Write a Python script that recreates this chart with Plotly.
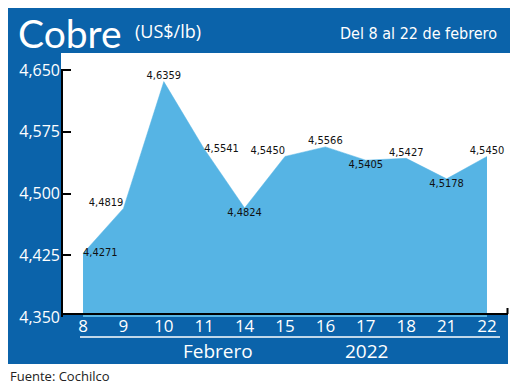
import plotly.graph_objects as go

# ---- data ----
days = ["8", "9", "10", "11", "14", "15", "16", "17", "18", "21", "22"]
prices = [4.4271, 4.4819, 4.6359, 4.5541, 4.4824, 4.5450, 4.5566, 4.5405, 4.5427, 4.5178, 4.5450]
label_pos = ["middle right", "top left", "top center", "middle right", "bottom center",
             "top left", "top center", "bottom center", "top center", "bottom center", "top center"]
y_ticks = [4.350, 4.425, 4.500, 4.575, 4.650]
month_label = "Febrero"
year_label = "2022"
title_main = "Cobre"
title_unit = "(US$/lb)"
title_right = "Del 8 al 22 de febrero"
source = "Fuente: Cochilco"

# page body has an 8px margin: lay out in window pixels, shift into figure pixels
OFF = 8
W, H = 520 - OFF, 389 - OFF
L, R, T, B = 61 - OFF, 508 - OFF, 53 - OFF, 317 - OFF  # plot area (figure px)
BLUE = "#0B63AA"
FILL = "#56B4E4"
NARROW = "DejaVu Sans Condensed, Roboto Condensed, Arial Narrow, Roboto"


def px(x):  # window px -> paper
    return (x - OFF - L) / (R - L)


def py(y):
    return (B - (y - OFF)) / (B - T)


fig = go.Figure()
fig.add_trace(go.Scatter(
    x=days, y=prices, mode="lines+text", fill="tozeroy",
    fillcolor=FILL, line=dict(color=FILL, width=0.5),
    text=[f"{v:.4f}".replace(".", ",") for v in prices],
    textposition=label_pos,
    textfont=dict(family=NARROW, size=11, color="#111111", weight=500),
    hoverinfo="skip", cliponaxis=False,
))

shapes = [
    # blue frame: top band, left band, bottom band
    dict(type="rect", xref="paper", yref="paper", x0=px(5), x1=px(510), y0=py(53), y1=py(5),
         fillcolor=BLUE, line_width=0, layer="below"),
    dict(type="rect", xref="paper", yref="paper", x0=px(5), x1=px(61), y0=py(364), y1=py(53),
         fillcolor=BLUE, line_width=0, layer="below"),
    dict(type="rect", xref="paper", yref="paper", x0=px(5), x1=px(508), y0=py(364), y1=py(315),
         fillcolor=BLUE, line_width=0, layer="below"),
    # white rule under day labels
    dict(type="line", xref="paper", yref="paper", x0=px(80), x1=px(500), y0=py(337), y1=py(337),
         line=dict(color="white", width=1.5)),
    # y axis line
    dict(type="line", xref="paper", yref="y", x0=px(62), x1=px(62), y0=y_ticks[0], y1=y_ticks[-1],
         line=dict(color="black", width=2)),
    # x axis line with end tick
    dict(type="line", xref="paper", yref="paper", x0=px(62), x1=px(508), y0=py(314), y1=py(314),
         line=dict(color="black", width=2)),
    dict(type="line", xref="paper", yref="paper", x0=px(507.5), x1=px(507.5), y0=py(314), y1=py(308),
         line=dict(color="black", width=2)),
]

annotations = [
    dict(text=title_main, xref="paper", yref="paper", x=px(16), y=py(33), xanchor="left", yanchor="middle",
         showarrow=False, font=dict(family="Lato", size=39, color="white")),
    dict(text=title_unit, xref="paper", yref="paper", x=px(133), y=py(31), xanchor="left", yanchor="middle",
         showarrow=False, font=dict(family="Open Sans", size=18, color="white")),
    dict(text=title_right, xref="paper", yref="paper", x=px(499), y=py(33), xanchor="right", yanchor="middle",
         showarrow=False, font=dict(family=NARROW, size=16, color="white")),
    dict(text=month_label, xref="paper", yref="paper", x=px(218), y=py(351), xanchor="center", yanchor="middle",
         showarrow=False, font=dict(family="Open Sans", size=19, color="white")),
    dict(text=year_label, xref="paper", yref="paper", x=px(366), y=py(351), xanchor="center", yanchor="middle",
         showarrow=False, font=dict(family="Open Sans", size=19, color="white")),
    dict(text=source, xref="paper", yref="paper", x=px(8), y=py(376), xanchor="left", yanchor="middle",
         showarrow=False, font=dict(family="Open Sans", size=13, color="#222222")),
]

fig.update_layout(
    width=W, height=H,
    margin=dict(l=L, r=W - R, t=T, b=H - B, pad=0),
    paper_bgcolor="white", plot_bgcolor="white",
    separators=",.",
    showlegend=False,
    shapes=shapes, annotations=annotations,
    xaxis=dict(type="category", range=[-0.545, 10.52], showgrid=False, zeroline=False,
               showline=False, ticks="", ticklabelstandoff=-3,
               tickfont=dict(family="Open Sans", size=17, color="white"),
               fixedrange=True, automargin=False),
    yaxis=dict(range=[4.35, 4.35 + (B - T) * 0.3 / 247], tickvals=y_ticks, tickformat=".3f",
               showgrid=False, zeroline=False, showline=False,
               ticks="inside", ticklen=10, tickwidth=2, tickcolor="black",
               tickfont=dict(family="Open Sans", size=16, color="white"),
               fixedrange=True, automargin=False),
)

fig.write_html("out.html")
